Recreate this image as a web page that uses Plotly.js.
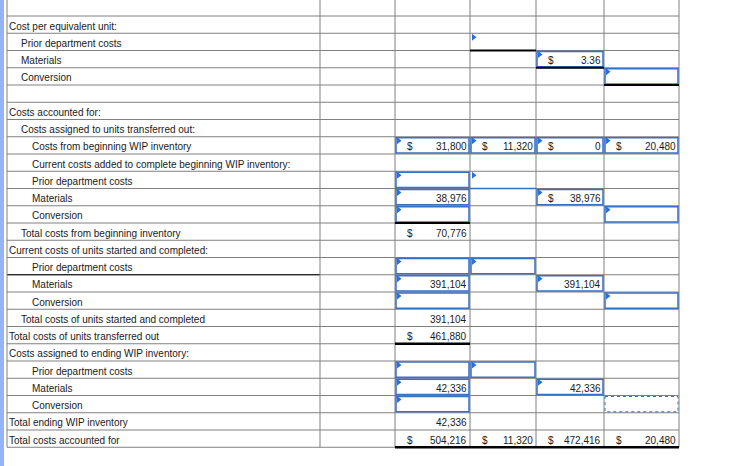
<!DOCTYPE html>
<html>
<head>
<meta charset="utf-8">
<script src="https://cdn.plot.ly/plotly-3.0.1.min.js"></script>
<style>
    body { margin: 0; background: #fff; }
    #grafico { width: 733px; height: 466px; }
</style>
</head>
<body>
<div id="grafico"></div>
<script>
// Filas de la planilla (1..25) y su sangría
const etiquetas = [
    "Cost per equivalent unit:",
    "Prior department costs",
    "Materials",
    "Conversion",
    "",
    "Costs accounted for:",
    "Costs assigned to units transferred out:",
    "Costs from beginning WIP inventory",
    "Current costs added to complete beginning WIP inventory:",
    "Prior department costs",
    "Materials",
    "Conversion",
    "Total costs from beginning inventory",
    "Current costs of units started and completed:",
    "Prior department costs",
    "Materials",
    "Conversion",
    "Total costs of units started and completed",
    "Total costs of units transferred out",
    "Costs assigned to ending WIP inventory:",
    "Prior department costs",
    "Materials",
    "Conversion",
    "Total ending WIP inventory",
    "Total costs accounted for"
];
const sangrias = [0, 1, 1, 1, 0, 0, 1, 2, 2, 2, 2, 2, 1, 0, 2, 2, 2, 1, 0, 0, 2, 2, 2, 0, 0];

// Valores cargados: fila, columna, importe, con signo $
const filasValor    = [3, 8, 8, 8, 8, 11, 11, 13, 16, 16, 18, 19, 22, 22, 24, 25, 25, 25, 25];
const columnasValor = [4, 2, 3, 4, 5, 2, 4, 2, 2, 4, 2, 2, 2, 4, 2, 2, 3, 4, 5];
const valores       = [3.36, 31800, 11320, 0, 20480, 38976, 38976, 70776, 391104, 391104,
                       391104, 461880, 42336, 42336, 42336, 504216, 11320, 472416, 20480];
const conSigno      = [true, true, true, true, true, false, true, true, false, false,
                       false, true, false, false, false, true, true, true, true];

// Celdas de entrada (recuadro azul)
const filasEntrada    = [3, 4, 8, 8, 8, 8, 10, 11, 11, 12, 12, 15, 15, 16, 16, 17, 17, 21, 21, 22, 22, 23];
const columnasEntrada = [4, 5, 2, 3, 4, 5, 2, 2, 4, 2, 5, 2, 3, 2, 4, 2, 5, 2, 3, 2, 4, 2];

// Marcas azules sin recuadro
const filasMarca    = [2, 10];
const columnasMarca = [3, 3];

// Subrayados: fila, columna, grosor, color
const filasSubrayado    = [2, 3, 4, 12, 19, 25, 25, 25, 25, 10];
const columnasSubrayado = [3, 4, 5, 2, 2, 2, 3, 4, 5, 3];
const grosorSubrayado   = [2, 2, 2, 2, 2.5, 2.5, 2.5, 2.5, 2.5, 1.5];
const colorSubrayado    = ['#000', '#000', '#000', '#000', '#000', '#000', '#000', '#000', '#000', '#3a6fc4'];

// Celda seleccionada (punteada)
const celdaSeleccionada = [23, 5];

// Geometría de la grilla
const bordesColumna = [7, 320, 395, 470, 536, 604, 679];
const altoFila = 17.25;
const margenSuperior = 16;
const altoTotal = 466;
const px = 1 / altoFila;   // un pixel en unidades de fila

const colorGrilla = '#808080';
const colorAzul = '#3a6fc4';
const fuente = { family: 'Liberation Sans, Arial, sans-serif', size: 10, color: '#1a1a1a' };
const bajarTexto = 1.6 * px;

function formatear(v) {
    return v % 1 !== 0 ? v.toFixed(2) : v.toLocaleString('en-US');
}

const figuras = [];
const notas = [];

// barra celeste a la izquierda
figuras.push({
    type: 'rect', xref: 'x', yref: 'paper', x0: 0, x1: 4, y0: 0, y1: 1,
    fillcolor: '#93b4f8', line: { width: 0 }, layer: 'below'
});

// líneas horizontales
const ultimaFila = etiquetas.length;
for (let r = 0; r <= ultimaFila; r++) {
    figuras.push({
        type: 'line', xref: 'x', yref: 'y',
        x0: bordesColumna[0], x1: bordesColumna[bordesColumna.length - 1], y0: r, y1: r,
        line: { color: colorGrilla, width: 1 }
    });
}
// línea negra bajo "Prior department costs" (fila 15) en la columna de texto
figuras.push({
    type: 'line', xref: 'x', yref: 'y',
    x0: bordesColumna[0], x1: bordesColumna[1], y0: 15, y1: 15,
    line: { color: '#000', width: 1 }
});

// líneas verticales
const topeY = -margenSuperior / altoFila;
bordesColumna.forEach(bx => {
    figuras.push({
        type: 'line', xref: 'x', yref: 'y',
        x0: bx, x1: bx, y0: topeY, y1: ultimaFila,
        line: { color: colorGrilla, width: 1 }
    });
});

// recuadros azules de entrada
filasEntrada.forEach((f, i) => {
    const c = columnasEntrada[i];
    figuras.push({
        type: 'rect', xref: 'x', yref: 'y',
        x0: bordesColumna[c] + 1, x1: bordesColumna[c + 1] - 1,
        y0: f - 1 + px, y1: f - px,
        line: { color: colorAzul, width: 1.5 }
    });
});

// celda seleccionada
figuras.push({
    type: 'rect', xref: 'x', yref: 'y',
    x0: bordesColumna[celdaSeleccionada[1]] + 1, x1: bordesColumna[celdaSeleccionada[1] + 1] - 1,
    y0: celdaSeleccionada[0] - 1 + px, y1: celdaSeleccionada[0] - px,
    line: { color: colorAzul, width: 1, dash: 'dot' }
});

// subrayados
filasSubrayado.forEach((f, i) => {
    const c = columnasSubrayado[i];
    figuras.push({
        type: 'line', xref: 'x', yref: 'y',
        x0: bordesColumna[c], x1: bordesColumna[c + 1], y0: f, y1: f,
        line: { color: colorSubrayado[i], width: grosorSubrayado[i] }
    });
});

// etiquetas de las filas
etiquetas.forEach((texto, i) => {
    if (texto === "") return;
    notas.push({
        xref: 'x', yref: 'y', x: bordesColumna[0] + 2 + sangrias[i] * 11.5, y: i + 0.5 + bajarTexto,
        xanchor: 'left', yanchor: 'middle', text: texto, showarrow: false,
        borderpad: 0, borderwidth: 0, font: fuente
    });
});

// importes
valores.forEach((v, i) => {
    const f = filasValor[i];
    const c = columnasValor[i];
    notas.push({
        xref: 'x', yref: 'y', x: bordesColumna[c + 1] - 3, y: f - 0.5 + bajarTexto,
        xanchor: 'right', yanchor: 'middle', text: formatear(v), showarrow: false,
        borderpad: 0, borderwidth: 0, font: fuente
    });
    if (conSigno[i]) {
        notas.push({
            xref: 'x', yref: 'y', x: bordesColumna[c] + 11.5, y: f - 0.5 + bajarTexto,
            xanchor: 'left', yanchor: 'middle', text: '$', showarrow: false,
            borderpad: 0, borderwidth: 0, font: fuente
        });
    }
});

// marcas triangulares azules
const marcasX = [];
const marcasY = [];
filasEntrada.concat(filasMarca).forEach((f, i) => {
    const c = i < filasEntrada.length ? columnasEntrada[i] : columnasMarca[i - filasEntrada.length];
    marcasX.push(bordesColumna[c] + 3.5);
    marcasY.push(f - 1 + 4 * px);
});

const trazas = [{
    x: marcasX,
    y: marcasY,
    mode: 'markers',
    type: 'scatter',
    marker: { symbol: 'triangle-right', size: 6, color: '#2a6fdc' },
    hoverinfo: 'skip'
}];

const layout = {
    width: 733,
    height: altoTotal,
    margin: { l: 0, r: 0, t: 0, b: 0 },
    paper_bgcolor: '#fff',
    plot_bgcolor: '#fff',
    showlegend: false,
    xaxis: { range: [0, 733], visible: false, fixedrange: true },
    yaxis: { range: [(altoTotal - margenSuperior) / altoFila, topeY], visible: false, fixedrange: true },
    shapes: figuras,
    annotations: notas
};

Plotly.newPlot('grafico', trazas, layout, { staticPlot: true });
</script>
</body>
</html>
